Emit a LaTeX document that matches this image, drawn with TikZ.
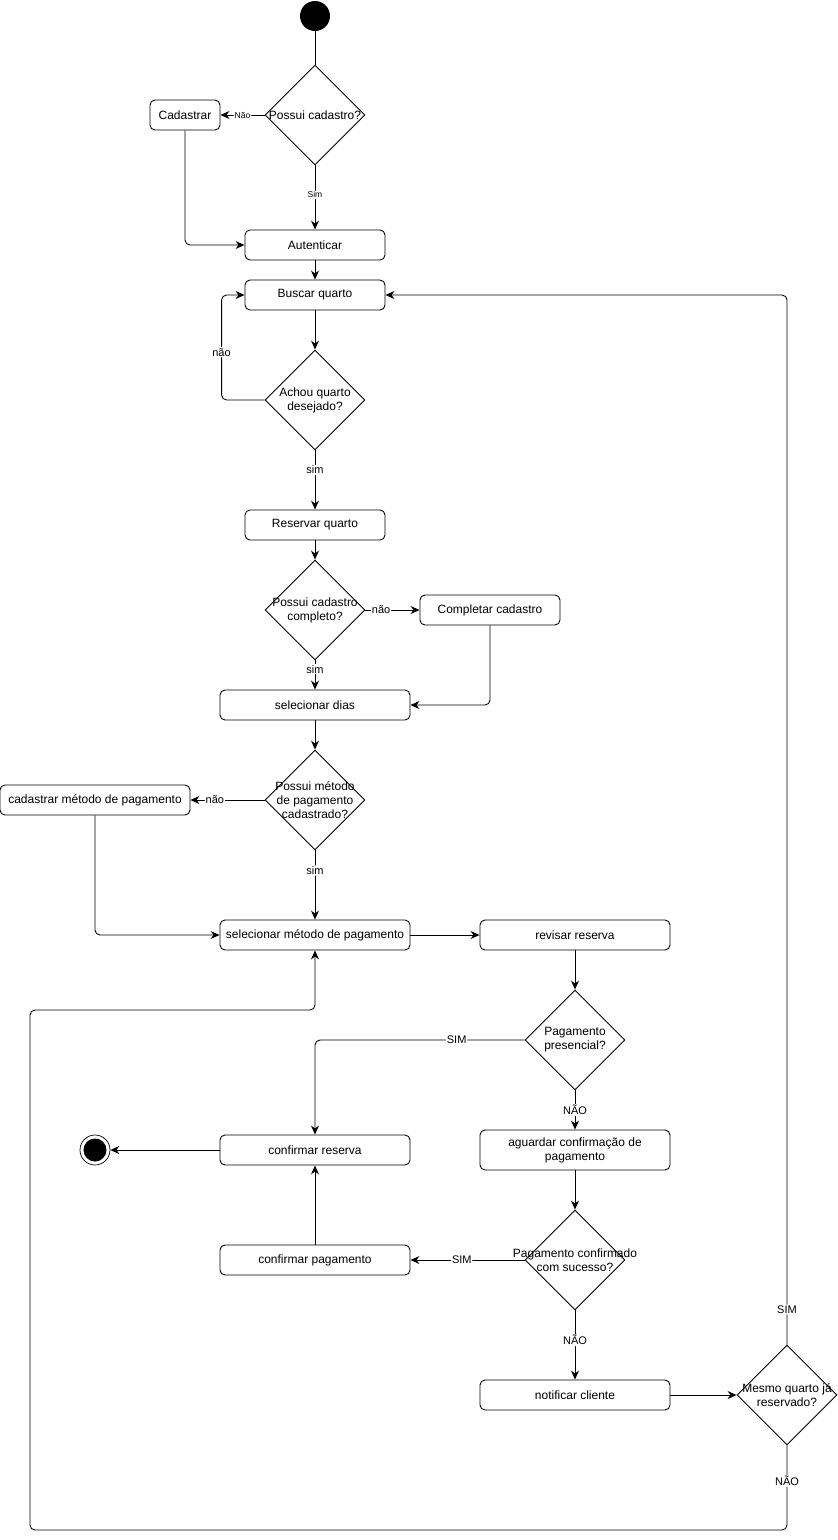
\documentclass[tikz,border=0pt]{standalone}
\usepackage{fontspec}
\setmainfont{Liberation Sans}
\usetikzlibrary{shapes.geometric,arrows.meta}
\begin{document}
\begin{tikzpicture}[x=1pt,y=-1pt,line width=0.9pt,
  font=\fontsize{12}{14}\selectfont,
  box/.style={draw,rounded corners=5pt,minimum height=30pt,inner sep=1pt,align=center},
  dia/.style={draw,shape=diamond,minimum width=100pt,minimum height=100pt,inner sep=0pt},
  dtxt/.style={align=center,inner sep=0pt,font=\fontsize{12}{14}\selectfont},
  lbl/.style={fill=white,inner sep=1pt,font=\fontsize{11}{12}\selectfont},
  slbl/.style={fill=white,inner sep=1pt,font=\fontsize{8.5}{10}\selectfont},
  arr/.style={-{Stealth[length=9pt,width=8pt,inset=3pt]},rounded corners=5pt},
  ln/.style={rounded corners=5pt}]
\useasboundingbox (0,0) rectangle (838,1540);
% nodes
\node[circle,fill=black,minimum size=30pt,inner sep=0pt] (start) at (315,16) {};
\node[dia] (d1) at (315,115) {};
\node[dtxt] (t1) at (d1.center) {Possui cadastro?};
\node[box,minimum width=70pt] (cad) at (185,115) {Cadastrar};
\node[box,minimum width=140pt] (aut) at (315,245) {Autenticar};
\node[box,minimum width=140pt] (busca) at (315,295) {Buscar quarto};
\node[dia] (d2) at (315,400) {};
\node[dtxt] (t2) at (d2.center) {Achou quarto\\desejado?};
\node[box,minimum width=140pt] (res) at (315,525) {Reservar quarto};
\node[dia] (d3) at (315,610) {};
\node[dtxt] (t3) at (d3.center) {Possui cadastro\\completo?};
\node[box,minimum width=140pt] (comp) at (490,610) {Completar cadastro};
\node[box,minimum width=190pt] (dias) at (315,705) {selecionar dias};
\node[dia] (d4) at (315,800) {};
\node[dtxt] (t4) at (d4.center) {Possui método\\de pagamento\\cadastrado?};
\node[box,minimum width=190pt] (cadpag) at (95,800) {cadastrar método de pagamento};
\node[box,minimum width=190pt] (selpag) at (315,935) {selecionar método de pagamento};
\node[box,minimum width=190pt] (rev) at (575,935) {revisar reserva};
\node[dia] (d5) at (575,1040) {};
\node[dtxt] (t5) at (d5.center) {Pagamento\\presencial?};
\node[box,minimum width=190pt,minimum height=40pt] (ag) at (575,1150) {aguardar confirmação de\\pagamento};
\node[box,minimum width=190pt] (confres) at (315,1150) {confirmar reserva};
\node[draw,circle,minimum size=30pt,inner sep=0pt,line width=0.7pt] (end) at (95,1150) {};
\fill (end.center) circle (11.5);
\node[dia] (d6) at (575,1260) {};
\node[dtxt] (t6) at (d6.center) {Pagamento confirmado\\com sucesso?};
\node[box,minimum width=190pt] (confpag) at (315,1260) {confirmar pagamento};
\node[box,minimum width=190pt] (notif) at (575,1395) {notificar cliente};
\node[dia] (d7) at (787,1395) {};
\node[dtxt] (t7) at (d7.center) {Mesmo quarto já\\reservado?};
\coordinate (cBL) at (30,1530);
\coordinate (cTL) at (30,1010);
% edges
\draw (start.south) -- (d1.north);
\draw[arr] (d1.west) -- node[slbl,pos=0.5] {Não} (cad.east);
\draw[arr] (d1.south) -- node[slbl,pos=0.46] {Sim} (aut.north);
\draw[arr] (cad.south) |- (aut.west);
\draw[arr] (aut.south) -- (busca.north);
\draw[arr] (busca.south) -- (d2.north);
\draw[arr] (d2.west) -- ++(-43,0) |- node[lbl,pos=0.228] {não} (busca.west);
\draw[arr] (d2.south) -- node[lbl,pos=0.33] {sim} (res.north);
\draw[arr] (res.south) -- (d3.north);
\draw[arr] (d3.east) -- node[lbl,pos=0.29] {não} (comp.west);
\draw[arr] (comp.south) |- (dias.east);
\draw[arr] (d3.south) -- node[lbl,pos=0.3] {sim} (dias.north);
\draw[arr] (dias.south) -- (d4.north);
\draw[arr] (d4.west) -- node[lbl,pos=0.67] {não} (cadpag.east);
\draw[arr] (d4.south) -- node[lbl,pos=0.29] {sim} (selpag.north);
\draw[arr] (cadpag.south) |- (selpag.west);
\draw[arr] (selpag.east) -- (rev.west);
\draw[arr] (rev.south) -- (d5.north);
\draw[arr] (d5.west) -| node[lbl,pos=0.162] {SIM} (confres.north);
\draw[arr] (d5.south) -- node[lbl,pos=0.5] {NÃO} (ag.north);
\draw[arr] (ag.south) -- (d6.north);
\draw[arr] (d6.west) -- node[lbl,pos=0.55] {SIM} (confpag.east);
\draw[arr] (confpag.north) -- (confres.south);
\draw[arr] (confres.west) -- (end.east);
\draw[arr] (d6.south) -- node[lbl,pos=0.43] {NÃO} (notif.north);
\draw[arr] (notif.east) -- (d7.west);
\draw[arr] (d7.north) |- node[lbl,pos=0.0167] {SIM} (busca.east);
\draw[arr] (d7.south) |- node[lbl,pos=0.21] {NÃO} (cBL) -- (cTL) -| (selpag.south);
\end{tikzpicture}
\end{document}
